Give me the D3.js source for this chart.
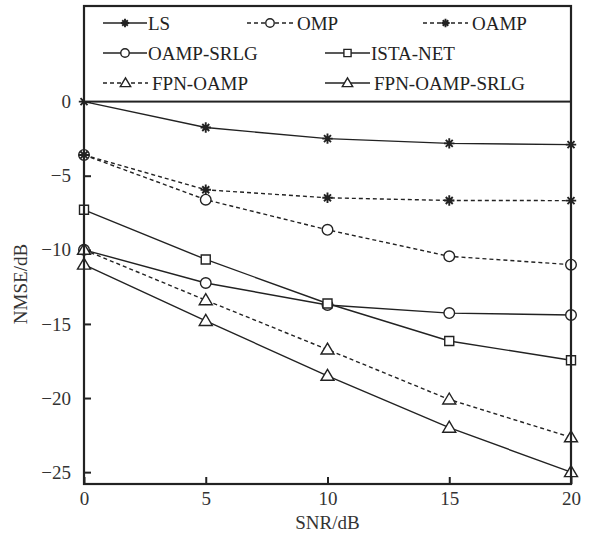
<!DOCTYPE html>
<html><head><meta charset="utf-8">
<script src="https://cdn.jsdelivr.net/npm/d3@7"></script>
<style>body{margin:0;background:#fff}svg{display:block}</style>
</head><body>
<svg id="c" width="589" height="533"></svg>
<script>
const snr = [0, 5, 10, 15, 20];
const LS = [0, -1.75, -2.5, -2.82, -2.9];
const OMP = [-3.6, -6.62, -8.65, -10.44, -11.0];
const OAMP = [-3.6, -5.95, -6.49, -6.67, -6.68];
const OAMP_SRLG = [-10.0, -12.24, -13.72, -14.27, -14.4];
const ISTA_NET = [-7.3, -10.65, -13.62, -16.15, -17.45];
const FPN_OAMP = [-10.0, -13.4, -16.73, -20.1, -22.65];
const FPN_OAMP_SRLG = [-11.0, -14.8, -18.5, -22.0, -25.0];
const xTicks = [0, 5, 10, 15, 20];
const yTicks = [0, -5, -10, -15, -20, -25];

const series = [
  {name:"LS", values:LS, dash:null, marker:"star"},
  {name:"OMP", values:OMP, dash:"4,3", marker:"circle"},
  {name:"OAMP", values:OAMP, dash:"4,3", marker:"star"},
  {name:"OAMP-SRLG", values:OAMP_SRLG, dash:null, marker:"circle"},
  {name:"ISTA-NET", values:ISTA_NET, dash:null, marker:"square"},
  {name:"FPN-OAMP", values:FPN_OAMP, dash:"4,3", marker:"triangle"},
  {name:"FPN-OAMP-SRLG", values:FPN_OAMP_SRLG, dash:null, marker:"triangle"}
];

const svg = d3.select("#c");
const L = 84, R = 571, T = 6, B = 484;
const x = d3.scaleLinear().domain([0, 20]).range([L, R]);
const y = d3.scaleLinear().domain([-25.8, 6.45]).range([B, T]);
const col = "#222";
const font = "'Liberation Serif', 'Times New Roman', serif";

function markerPath(type) {
  if (type === "circle") return d3.symbol().type(d3.symbolCircle).size(Math.PI*5.3*5.3)();
  if (type === "square") return "M-4.5,-4.5H4.5V4.5H-4.5Z";
  if (type === "triangle") return "M0,-6.5L6.5,4.5L-6.5,4.5Z";
  const r = 5.2, a = r*Math.SQRT1_2*0.95;
  return `M${-r},0H${r}M0,${-r}V${r}M${-a},${-a}L${a},${a}M${-a},${a}L${a},${-a}`;
}

function drawMarker(g, type, cx, cy, k) {
  k = k || 1;
  g.append("path").attr("d", markerPath(type))
    .attr("transform", `translate(${cx},${cy}) scale(${k})`)
    .attr("fill", type === "star" ? "none" : "#fff")
    .attr("stroke", col).attr("stroke-width", (type === "star" ? 1.9 : 1.4) / k);
}

const yAxis = d3.axisLeft(y).tickValues(yTicks).tickSize(-7).tickPadding(13)
  .tickFormat(d => d < 0 ? "\u2212" + Math.abs(d) : d);
const xAxis = d3.axisBottom(x).tickValues(xTicks).tickSize(-7).tickPadding(8);
const gy = svg.append("g").attr("transform", `translate(${L},0)`).call(yAxis);
const gx = svg.append("g").attr("transform", `translate(0,${B})`).call(xAxis);
[gx, gy].forEach(g => {
  g.select(".domain").remove();
  g.selectAll("line").attr("stroke", col).attr("stroke-width", 2);
  g.selectAll("text").attr("font-family", font).attr("font-size", 19).attr("fill", "#333");
});

const line = d3.line().x((d, i) => x(snr[i])).y(d => y(d));
const gl = svg.append("g");
series.forEach(s => {
  gl.append("path").datum(s.values).attr("d", line)
    .attr("fill", "none").attr("stroke", col).attr("stroke-width", 1.4)
    .attr("stroke-dasharray", s.dash);
});
series.forEach(s => {
  s.values.forEach((v, i) => drawMarker(gl, s.marker, x(snr[i]), y(v)));
});

const legend = svg.append("g");
legend.append("rect").attr("x", L).attr("y", T).attr("width", R - L).attr("height", y(0) - T)
  .attr("fill", "#fff").attr("stroke", col).attr("stroke-width", 2);
const rows = [23, 53, 83];
const legPos = [
  {row:0, x1:103, x2:147, tx:148},
  {row:0, x1:247, x2:293, tx:297},
  {row:0, x1:423, x2:468, tx:472},
  {row:1, x1:103, x2:147, tx:148},
  {row:1, x1:325, x2:370, tx:371},
  {row:2, x1:103, x2:148, tx:152},
  {row:2, x1:325, x2:370, tx:374}
];
series.forEach((s, i) => {
  const p = legPos[i], yy = rows[p.row];
  legend.append("line").attr("x1", p.x1).attr("x2", p.x2).attr("y1", yy).attr("y2", yy)
    .attr("stroke", col).attr("stroke-width", 1.4).attr("stroke-dasharray", s.dash);
  drawMarker(legend, s.marker, (p.x1 + p.x2) / 2, yy, 0.8);
  legend.append("text").attr("x", p.tx).attr("y", yy + 6.5).text(s.name)
    .attr("font-family", font).attr("font-size", 19).attr("fill", "#222");
});

svg.append("rect").attr("x", L).attr("y", T).attr("width", R - L).attr("height", B - T)
  .attr("fill", "none").attr("stroke", col).attr("stroke-width", 2.2);

svg.append("text").attr("x", (L + R) / 2).attr("y", 529).attr("text-anchor", "middle")
  .attr("font-family", font).attr("font-size", 19).attr("fill", "#333").text("SNR/dB");
svg.append("text").attr("transform", "translate(27,284) rotate(-90)").attr("text-anchor", "middle")
  .attr("font-family", font).attr("font-size", 19).attr("fill", "#333").text("NMSE/dB");
</script>
</body></html>
